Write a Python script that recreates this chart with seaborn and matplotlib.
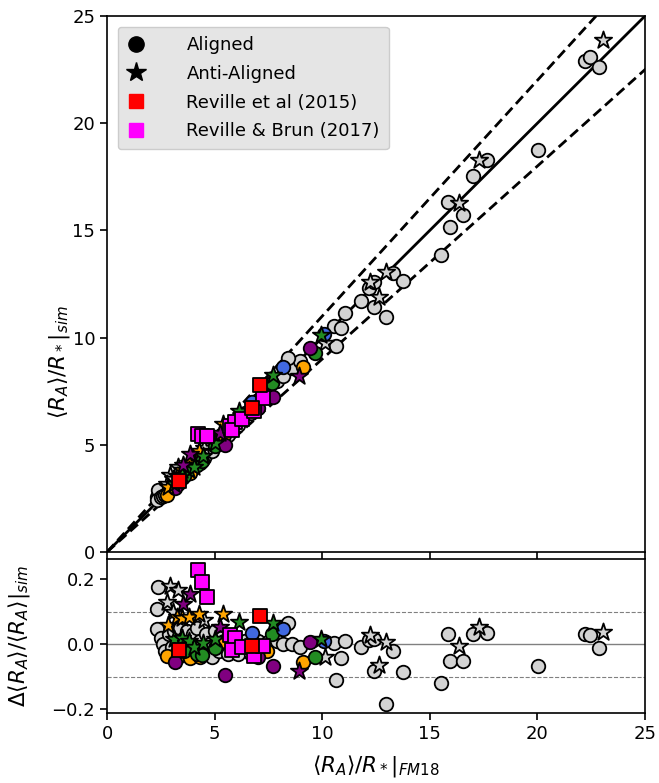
import numpy as np
import pandas as pd
import matplotlib
matplotlib.use("Agg")
import matplotlib.pyplot as plt
import seaborn as sns
from matplotlib.lines import Line2D

# ---------------- data (x = <R_A>/R*|FM18, res = Delta<R_A>/<R_A>|sim) ----------------
gray_circle_x = [2.31, 2.39, 2.31, 2.5, 2.6, 2.7, 2.9, 3.0, 3.1, 3.2, 3.3, 3.4, 3.5, 3.6, 3.7,
                 3.8, 3.9, 4.0, 4.1, 4.2, 4.3, 4.5, 4.6, 4.8, 4.9, 5.0, 5.2, 5.3, 5.6, 5.9,
                 6.1, 6.4, 6.7, 7.0, 7.5, 7.9, 8.2, 8.59, 8.98, 8.43,
                 10.53, 11.07, 10.87, 10.64, 11.8, 12.16, 12.39, 13.27, 12.39, 13.74, 12.98,
                 15.83, 15.93, 16.53, 15.52, 17.0, 17.66, 20.03, 22.2, 22.42, 22.88]
gray_circle_res = [0.107, 0.176, 0.047, 0.02, 0.0, -0.02, 0.03, -0.01, 0.04, -0.03, 0.01, 0.05, -0.02, 0.02, 0.04,
                   -0.03, 0.0, 0.03, -0.02, 0.05, 0.01, -0.03, 0.03, 0.0, -0.04, 0.04, -0.02, 0.02, -0.03, 0.0,
                   -0.03, 0.01, -0.03, 0.01, 0.005, 0.01, 0.0, 0.0, -0.01, 0.066,
                   0.002, 0.009, -0.042, -0.109, -0.009, 0.012, 0.017, -0.02, -0.083, -0.087, -0.185,
                   0.03, -0.051, -0.051, -0.121, 0.03, 0.035, -0.068, 0.031, 0.028, -0.011]

gray_star_x = [2.93, 3.32, 2.78, 3.05, 4.5, 10.14, 12.23, 12.98, 12.65, 16.34, 17.3, 23.04]
gray_star_res = [0.18, 0.166, 0.13, 0.1, 0.075, -0.039, 0.028, 0.005, -0.065, -0.005, 0.053, 0.036]

purple_circle_x = [3.16, 5.49, 7.71, 9.44, 7.0]
purple_circle_res = [-0.054, -0.095, -0.068, 0.007, -0.04]
purple_star_x = [3.86, 3.55, 5.26, 8.9]
purple_star_res = [0.154, 0.124, 0.053, -0.082]

orange_circle_x = [2.78, 3.3, 3.86, 4.3, 5.42, 7.43, 9.1]
orange_circle_res = [-0.037, -0.04, -0.044, -0.04, 0.01, -0.02, -0.054]
orange_star_x = [2.85, 3.24, 3.5, 3.83, 4.29, 5.41]
orange_star_res = [0.058, 0.084, 0.08, 0.082, 0.092, 0.092]

green_circle_x = [3.6, 4.2, 4.4, 5.02, 7.66, 9.67]
green_circle_res = [-0.02, -0.03, -0.034, -0.013, 0.031, -0.041]
green_star_x = [3.12, 3.5, 3.8, 4.02, 4.48, 5.02, 6.11, 7.71, 9.94]
green_star_res = [0.015, 0.02, 0.01, -0.01, 0.002, 0.017, 0.068, 0.066, 0.017]

blue_circle_x = [6.76, 8.2, 10.06]
blue_circle_res = [0.035, 0.048, 0.01]

red_square_x = [3.36, 6.76, 7.12]
red_square_res = [-0.018, -0.006, 0.087]

magenta_square_x = [4.25, 4.40, 4.64, 5.72, 5.95, 5.8, 6.26, 6.81, 7.24]
magenta_square_res = [0.228, 0.19, 0.146, 0.028, 0.02, -0.018, -0.01, -0.037, -0.006]

legend_labels = ["Aligned", "Anti-Aligned", "Reville et al (2015)", "Reville & Brun (2017)"]

# ---------------- styling ----------------
sns.set_style("ticks")
plt.rcParams["font.family"] = ["DejaVu Sans"]
plt.rcParams["mathtext.fontset"] = "dejavusans"
for key in ["text.color", "axes.labelcolor", "xtick.color", "ytick.color", "axes.edgecolor"]:
    plt.rcParams[key] = "black"

groups = [
    (gray_circle_x, gray_circle_res, "#d3d3d3", "o", 2),
    (gray_star_x, gray_star_res, "#d3d3d3", "*", 2),
    (orange_circle_x, orange_circle_res, "orange", "o", 3),
    (green_circle_x, green_circle_res, "forestgreen", "o", 3),
    (purple_circle_x, purple_circle_res, "purple", "o", 3),
    (blue_circle_x, blue_circle_res, "royalblue", "o", 3),
    (orange_star_x, orange_star_res, "orange", "*", 3),
    (green_star_x, green_star_res, "forestgreen", "*", 3),
    (purple_star_x, purple_star_res, "purple", "*", 3),
    (magenta_square_x, magenta_square_res, "magenta", "s", 4),
    (red_square_x, red_square_res, "red", "s", 4),
]

fig = plt.figure(figsize=(6.59, 7.83), dpi=100)
ax1 = fig.add_axes([0.1624, 0.295, 0.8164, 0.6846])
ax2 = fig.add_axes([0.1624, 0.0894, 0.8164, 0.1967])

line_x = np.array([0, 30])
ax1.plot(line_x, line_x, color="black", lw=2, zorder=1)
ax1.plot(line_x, 1.1 * line_x, color="black", lw=2, ls=(0, (3.7, 1.9)), zorder=1)
ax1.plot(line_x, 0.9 * line_x, color="black", lw=2, ls=(0, (3.7, 1.9)), zorder=1)

ax2.axhline(0, color="gray", lw=1, zorder=1)
ax2.axhline(0.1, color="gray", lw=0.8, ls="--", zorder=1)
ax2.axhline(-0.1, color="gray", lw=0.8, ls="--", zorder=1)

for xs, rs, col, mk, zo in groups:
    xs = np.asarray(xs, float)
    rs = np.asarray(rs, float)
    df = pd.DataFrame({"x": xs, "res": rs, "y": xs / (1.0 - rs)})
    size = {"*": 170, "o": 95, "s": 90}[mk]
    sns.scatterplot(data=df, x="x", y="y", ax=ax1, color=col, marker=mk, s=size,
                    edgecolor="black", linewidth=1.3, zorder=zo, legend=False)
    sns.scatterplot(data=df, x="x", y="res", ax=ax2, color=col, marker=mk, s=size,
                    edgecolor="black", linewidth=1.3, zorder=zo, legend=False)

for ax in (ax1, ax2):
    ax.set_xlim(0, 25)
    for sp in ax.spines.values():
        sp.set_linewidth(1.2)
        sp.set_color("black")
    ax.tick_params(direction="out", length=5, width=1.2, labelsize=13, color="black")

ax1.set_ylim(0, 25)
ax1.set_xticks([0, 5, 10, 15, 20, 25])
ax1.set_xticklabels([])
ax1.set_yticks([0, 5, 10, 15, 20, 25])
ax1.set_xlabel("")
ax1.set_ylabel(r"$\langle R_A\rangle/R_*|_{sim}$", fontsize=15.5)
ax1.yaxis.set_label_coords(-0.065, 0.355)

ax2.set_ylim(-0.212, 0.262)
ax2.set_yticks([-0.2, 0.0, 0.2])
ax2.set_xticks([0, 5, 10, 15, 20, 25])
ax2.set_xlabel(r"$\langle R_A\rangle/R_*|_{FM18}$", fontsize=15.5, labelpad=7)
ax2.set_ylabel(r"$\Delta\langle R_A\rangle/\langle R_A\rangle|_{sim}$", fontsize=15.5)
ax2.yaxis.set_label_coords(-0.139, 0.5)

handles = [
    Line2D([], [], ls="", marker="o", color="black", markersize=11),
    Line2D([], [], ls="", marker="*", color="black", markersize=15),
    Line2D([], [], ls="", marker="s", color="red", markersize=10),
    Line2D([], [], ls="", marker="s", color="magenta", markersize=10),
]
leg = ax1.legend(handles, legend_labels, loc="upper left", fontsize=13, frameon=True,
                 fancybox=True, labelspacing=0.6, handletextpad=2.3, borderpad=0.5,
                 handlelength=1.0, borderaxespad=0.6)
leg.get_frame().set_facecolor("#e5e5e5")
leg.get_frame().set_edgecolor("#cccccc")
leg.get_frame().set_alpha(1)

fig.savefig("out.png", dpi=100)
